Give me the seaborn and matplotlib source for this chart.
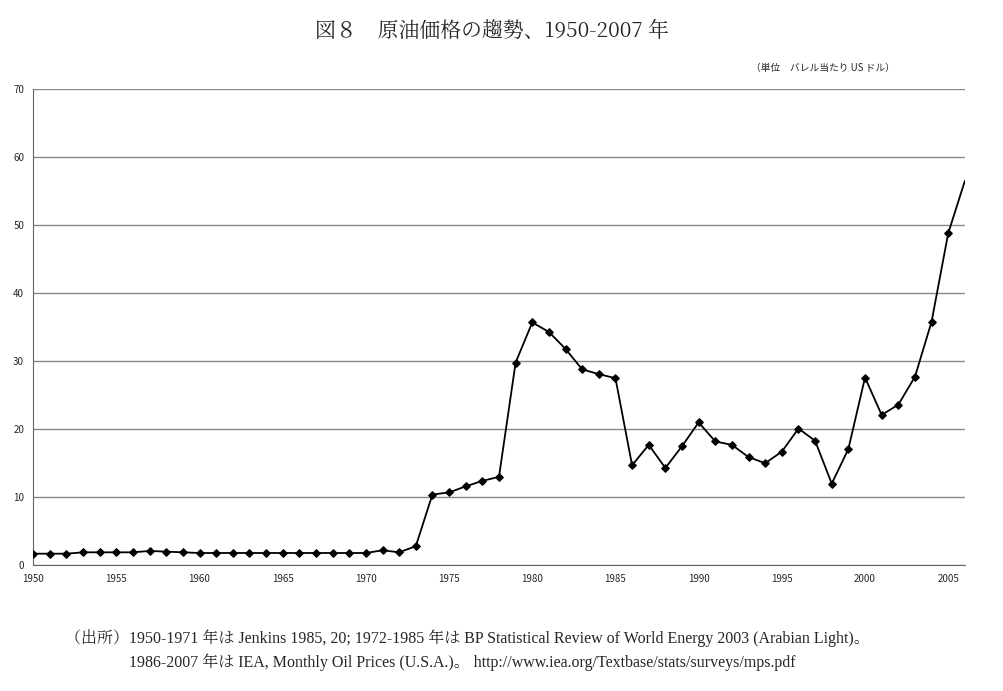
import numpy as np
import pandas as pd
import seaborn as sns
import matplotlib.pyplot as plt

years = list(range(1950, 2007))
prices = [1.7, 1.7, 1.7, 1.9, 1.9, 1.9, 1.9, 2.1, 2.0, 1.9, 1.8, 1.8, 1.8, 1.8, 1.8, 1.8,
          1.8, 1.8, 1.8, 1.8, 1.8, 2.2, 1.9, 2.8, 10.4, 10.7, 11.6, 12.4, 13.0, 29.8,
          35.7, 34.3, 31.8, 28.8, 28.1, 27.5, 14.7, 17.7, 14.3, 17.5, 21.0, 18.2, 17.7,
          15.9, 15.0, 16.7, 20.1, 18.3, 12.0, 17.1, 27.6, 22.1, 23.6, 27.7, 35.8, 48.8, 56.5]
x_ticks = list(range(1950, 2006, 5))
y_ticks = list(range(0, 71, 10))

df = pd.DataFrame({'year': years, 'price': prices})

sns.set_style('white')
plt.rcParams['font.family'] = ['Noto Sans CJK JP', 'DejaVu Sans']
serif = ['Liberation Serif', 'Noto Serif CJK JP', 'Noto Sans CJK JP', 'DejaVu Sans']

fig = plt.figure(figsize=(10.04, 6.91), dpi=100)
ax = fig.add_axes([0.033, 0.182, 0.928, 0.689])
sns.lineplot(data=df, x='year', y='price', color='black', linewidth=1.3, ax=ax)
ax.scatter(df['year'][:-1], df['price'][:-1], marker='D', s=14, color='black', zorder=3)

ax.set_xlim(1950, 2006)
ax.set_ylim(0, 70)
ax.set_xticks(x_ticks)
ax.set_yticks(y_ticks)
ax.tick_params(labelsize=7, length=3, direction='out')
ax.yaxis.grid(True, color='#888888', linewidth=1)
ax.set_xlabel('')
ax.set_ylabel('')
for s in ['top', 'right']:
    ax.spines[s].set_visible(False)
for s in ['left', 'bottom']:
    ax.spines[s].set_color('#666666')

fig.text(0.49, 0.955, '図８　原油価格の趨勢、1950-2007 年', ha='center', va='center', fontsize=15,
         family=['Noto Serif CJK JP', 'Noto Sans CJK JP', 'DejaVu Sans'])
fig.text(0.82, 0.902, '（単位　バレル当たり US ドル）', ha='center', va='center', fontsize=7)
fig.text(0.065, 0.077, '（出所）1950-1971 年は Jenkins 1985, 20; 1972-1985 年は BP Statistical Review of World Energy 2003 (Arabian Light)。',
         ha='left', va='center', fontsize=11.5, family=serif)
fig.text(0.128, 0.042, '1986-2007 年は IEA, Monthly Oil Prices (U.S.A.)。 http://www.iea.org/Textbase/stats/surveys/mps.pdf',
         ha='left', va='center', fontsize=11.5, family=serif)

fig.savefig('out.png', dpi=100)
